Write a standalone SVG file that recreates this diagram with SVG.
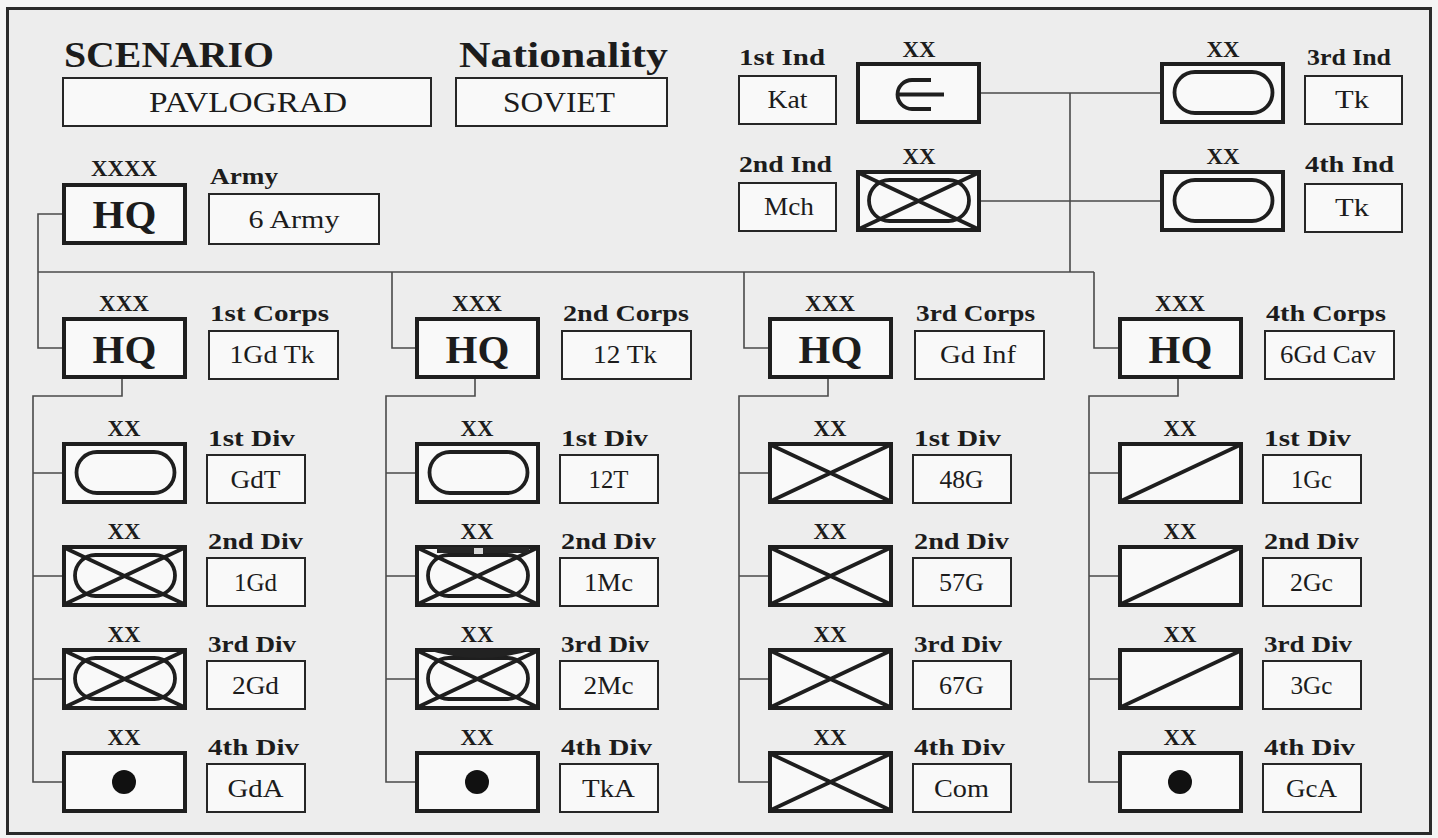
<svg xmlns="http://www.w3.org/2000/svg" xmlns:xlink="http://www.w3.org/1999/xlink" width="1438" height="838" viewBox="0 0 1438 838">
<style>
.t{font-family:"Liberation Serif","Times New Roman",serif;fill:#1c1c1c}
.ttl{font-size:36px;font-weight:bold}
.lbl{font-size:23px;font-weight:bold}
.ech{font-size:24px;font-weight:bold;text-anchor:middle}
.hq{font-size:41px;font-weight:bold;text-anchor:middle}
.nm{font-size:25px;text-anchor:middle}
.big{font-size:30px;text-anchor:middle}
.nbox{fill:#f9f9f9;stroke:#262626;stroke-width:2}
.ubox{fill:#f9f9f9;stroke:#1e1e1e;stroke-width:4}
.sym{fill:none;stroke:#1e1e1e;stroke-width:3.8}
.con{fill:none;stroke:#4a4a4a;stroke-width:1.6}
</style>
<defs>
<g id="box"><rect class="ubox" x="2" y="2" width="121" height="58"/></g>
<g id="tank"><use href="#box"/><rect class="sym" x="14.5" y="10" width="98" height="41" rx="20.5"/></g>
<g id="mech"><use href="#box"/><rect class="sym" x="13" y="10" width="100" height="41" rx="20.5"/><path class="sym" d="M3 3L122 59M3 59L122 3"/></g>
<g id="inf"><use href="#box"/><path class="sym" d="M3 3L122 59M3 59L122 3"/></g>
<g id="cav"><use href="#box"/><path class="sym" d="M3 59L122 3"/></g>
<g id="art"><use href="#box"/><circle cx="62" cy="31" r="12" fill="#111"/></g>
<g id="kav"><use href="#box"/><path class="sym" d="M75 18H56A14.5 14.5 0 0 0 56 47H75M42 32.5H88"/></g>
</defs>
<rect x="0" y="0" width="1438" height="838" fill="#f4f4f4"/>
<rect x="7.5" y="8.5" width="1423" height="825" fill="#ededed" stroke="#2a2a2a" stroke-width="3"/>

<g id="connectors" class="con">
<path d="M62 214H38V348H62"/>
<path d="M38 272H1094"/>
<path d="M392 272V348H415"/>
<path d="M744 272V348H768"/>
<path d="M1094 272V348H1118"/>
<path d="M981 93H1160M981 201H1160M1070 93V272"/>
<path d="M122 379V396H33V782H62M33 473H62M33 576H62M33 679H62"/>
<path d="M475 379V396H386V782H415M386 473H415M386 576H415M386 679H415"/>
<path d="M828 379V396H739V782H768M739 473H768M739 576H768M739 679H768"/>
<path d="M1178 379V396H1089V782H1118M1089 473H1118M1089 576H1118M1089 679H1118"/>
</g>

<g id="scenario">
<text class="t ttl" x="64" y="67" textLength="210" lengthAdjust="spacingAndGlyphs">SCENARIO</text>
<rect class="nbox" x="63" y="78" width="368" height="48"/>
<text class="t big" x="248" y="112" textLength="198" lengthAdjust="spacingAndGlyphs">PAVLOGRAD</text>
</g>
<g id="nationality">
<text class="t ttl" x="459" y="67" font-size="35" textLength="209" lengthAdjust="spacingAndGlyphs">Nationality</text>
<rect class="nbox" x="456" y="78" width="211" height="48"/>
<text class="t big" x="559" y="112" textLength="112" lengthAdjust="spacingAndGlyphs">SOVIET</text>
</g>

<g id="army">
<text class="t ech" x="124" y="176" textLength="66" lengthAdjust="spacingAndGlyphs">XXXX</text>
<use href="#box" x="62" y="183"/>
<text class="t hq" x="124.5" y="228">HQ</text>
<text class="t lbl" x="210" y="184" textLength="68" lengthAdjust="spacingAndGlyphs">Army</text>
<rect class="nbox" x="209" y="194" width="170" height="50"/>
<text class="t nm" x="294" y="228" textLength="91" lengthAdjust="spacingAndGlyphs">6 Army</text>
</g>

<g id="ind1">
<text class="t lbl" x="739" y="65" textLength="86" lengthAdjust="spacingAndGlyphs">1st Ind</text>
<rect class="nbox" x="739" y="76" width="97" height="48"/>
<text class="t nm" x="787.5" y="108" textLength="40" lengthAdjust="spacingAndGlyphs">Kat</text>
<text class="t ech" x="919" y="57" textLength="33" lengthAdjust="spacingAndGlyphs">XX</text>
<use href="#kav" x="856" y="62"/>
</g>
<g id="ind2">
<text class="t lbl" x="739" y="172" textLength="93" lengthAdjust="spacingAndGlyphs">2nd Ind</text>
<rect class="nbox" x="739" y="183" width="97" height="48"/>
<text class="t nm" x="789" y="215" textLength="50" lengthAdjust="spacingAndGlyphs">Mch</text>
<text class="t ech" x="919" y="164" textLength="33" lengthAdjust="spacingAndGlyphs">XX</text>
<use href="#mech" x="856" y="170"/>
</g>
<g id="ind3">
<text class="t ech" x="1223" y="57" textLength="33" lengthAdjust="spacingAndGlyphs">XX</text>
<use href="#tank" x="1160" y="62"/>
<text class="t lbl" x="1307" y="65" textLength="84" lengthAdjust="spacingAndGlyphs">3rd Ind</text>
<rect class="nbox" x="1305" y="76" width="97" height="48"/>
<text class="t nm" x="1352" y="108" textLength="34" lengthAdjust="spacingAndGlyphs">Tk</text>
</g>
<g id="ind4">
<text class="t ech" x="1223" y="164" textLength="33" lengthAdjust="spacingAndGlyphs">XX</text>
<use href="#tank" x="1160" y="170"/>
<text class="t lbl" x="1305" y="172" textLength="89" lengthAdjust="spacingAndGlyphs">4th Ind</text>
<rect class="nbox" x="1305" y="184" width="97" height="48"/>
<text class="t nm" x="1352" y="216" textLength="34" lengthAdjust="spacingAndGlyphs">Tk</text>
</g>

<!-- Corps -->
<g id="corps1">
<text class="t ech" x="124" y="311" textLength="50" lengthAdjust="spacingAndGlyphs">XXX</text>
<use href="#box" x="62" y="317"/>
<text class="t hq" x="124.5" y="363">HQ</text>
<text class="t lbl" x="210" y="321" textLength="119" lengthAdjust="spacingAndGlyphs">1st Corps</text>
<rect class="nbox" x="209" y="331" width="129" height="48"/>
<text class="t nm" x="272" y="363" textLength="85" lengthAdjust="spacingAndGlyphs">1Gd Tk</text>
</g>
<g id="corps2">
<text class="t ech" x="477" y="311" textLength="50" lengthAdjust="spacingAndGlyphs">XXX</text>
<use href="#box" x="415" y="317"/>
<text class="t hq" x="477.5" y="363">HQ</text>
<text class="t lbl" x="563" y="321" textLength="126" lengthAdjust="spacingAndGlyphs">2nd Corps</text>
<rect class="nbox" x="562" y="331" width="129" height="48"/>
<text class="t nm" x="625" y="363" textLength="64" lengthAdjust="spacingAndGlyphs">12 Tk</text>
</g>
<g id="corps3">
<text class="t ech" x="830" y="311" textLength="50" lengthAdjust="spacingAndGlyphs">XXX</text>
<use href="#box" x="768" y="317"/>
<text class="t hq" x="830.5" y="363">HQ</text>
<text class="t lbl" x="916" y="321" textLength="119" lengthAdjust="spacingAndGlyphs">3rd Corps</text>
<rect class="nbox" x="915" y="331" width="129" height="48"/>
<text class="t nm" x="978" y="363" textLength="76" lengthAdjust="spacingAndGlyphs">Gd Inf</text>
</g>
<g id="corps4">
<text class="t ech" x="1180" y="311" textLength="50" lengthAdjust="spacingAndGlyphs">XXX</text>
<use href="#box" x="1118" y="317"/>
<text class="t hq" x="1180.5" y="363">HQ</text>
<text class="t lbl" x="1266" y="321" textLength="120" lengthAdjust="spacingAndGlyphs">4th Corps</text>
<rect class="nbox" x="1265" y="331" width="129" height="48"/>
<text class="t nm" x="1328" y="363" textLength="96" lengthAdjust="spacingAndGlyphs">6Gd Cav</text>
</g>

<!-- Column 1 divisions -->
<g id="c1d1"><text class="t ech" x="124" y="436" textLength="33" lengthAdjust="spacingAndGlyphs">XX</text><use href="#tank" x="62" y="442"/>
<text class="t lbl" x="208" y="446" textLength="87" lengthAdjust="spacingAndGlyphs">1st Div</text>
<rect class="nbox" x="207" y="455" width="98" height="48"/>
<text class="t nm" x="255.5" y="488" textLength="50" lengthAdjust="spacingAndGlyphs">GdT</text></g>
<g id="c1d2"><text class="t ech" x="124" y="539" textLength="33" lengthAdjust="spacingAndGlyphs">XX</text><use href="#mech" x="62" y="545"/>
<text class="t lbl" x="208" y="549" textLength="95" lengthAdjust="spacingAndGlyphs">2nd Div</text>
<rect class="nbox" x="207" y="558" width="98" height="48"/>
<text class="t nm" x="255.5" y="591" textLength="43" lengthAdjust="spacingAndGlyphs">1Gd</text></g>
<g id="c1d3"><text class="t ech" x="124" y="642" textLength="33" lengthAdjust="spacingAndGlyphs">XX</text><use href="#mech" x="62" y="648"/>
<text class="t lbl" x="208" y="652" textLength="88" lengthAdjust="spacingAndGlyphs">3rd Div</text>
<rect class="nbox" x="207" y="661" width="98" height="48"/>
<text class="t nm" x="255.5" y="694" textLength="47" lengthAdjust="spacingAndGlyphs">2Gd</text></g>
<g id="c1d4"><text class="t ech" x="124" y="745" textLength="33" lengthAdjust="spacingAndGlyphs">XX</text><use href="#art" x="62" y="751"/>
<text class="t lbl" x="208" y="755" textLength="91" lengthAdjust="spacingAndGlyphs">4th Div</text>
<rect class="nbox" x="207" y="764" width="98" height="48"/>
<text class="t nm" x="255.5" y="797" textLength="56" lengthAdjust="spacingAndGlyphs">GdA</text></g>

<!-- Column 2 divisions -->
<g id="c2d1"><text class="t ech" x="477" y="436" textLength="33" lengthAdjust="spacingAndGlyphs">XX</text><use href="#tank" x="415" y="442"/>
<text class="t lbl" x="561" y="446" textLength="87" lengthAdjust="spacingAndGlyphs">1st Div</text>
<rect class="nbox" x="560" y="455" width="98" height="48"/>
<text class="t nm" x="608.5" y="488" textLength="40" lengthAdjust="spacingAndGlyphs">12T</text></g>
<g id="c2d2"><text class="t ech" x="477" y="539" textLength="33" lengthAdjust="spacingAndGlyphs">XX</text><use href="#mech" x="415" y="545"/>
<rect x="437" y="547" width="92" height="6" fill="#262626"/><rect x="474" y="548" width="9" height="6" fill="#d8d8d8"/>
<text class="t lbl" x="561" y="549" textLength="95" lengthAdjust="spacingAndGlyphs">2nd Div</text>
<rect class="nbox" x="560" y="558" width="98" height="48"/>
<text class="t nm" x="608.5" y="591" textLength="49" lengthAdjust="spacingAndGlyphs">1Mc</text></g>
<g id="c2d3"><text class="t ech" x="477" y="642" textLength="33" lengthAdjust="spacingAndGlyphs">XX</text><use href="#mech" x="415" y="648"/>
<path d="M424 649L536 649Q480 667 424 649Z" fill="#222"/>
<text class="t lbl" x="561" y="652" textLength="88" lengthAdjust="spacingAndGlyphs">3rd Div</text>
<rect class="nbox" x="560" y="661" width="98" height="48"/>
<text class="t nm" x="608.5" y="694" textLength="50" lengthAdjust="spacingAndGlyphs">2Mc</text></g>
<g id="c2d4"><text class="t ech" x="477" y="745" textLength="33" lengthAdjust="spacingAndGlyphs">XX</text><use href="#art" x="415" y="751"/>
<text class="t lbl" x="561" y="755" textLength="91" lengthAdjust="spacingAndGlyphs">4th Div</text>
<rect class="nbox" x="560" y="764" width="98" height="48"/>
<text class="t nm" x="608.5" y="797" textLength="53" lengthAdjust="spacingAndGlyphs">TkA</text></g>

<!-- Column 3 divisions -->
<g id="c3d1"><text class="t ech" x="830" y="436" textLength="33" lengthAdjust="spacingAndGlyphs">XX</text><use href="#inf" x="768" y="442"/>
<text class="t lbl" x="914" y="446" textLength="87" lengthAdjust="spacingAndGlyphs">1st Div</text>
<rect class="nbox" x="913" y="455" width="98" height="48"/>
<text class="t nm" x="961.5" y="488" textLength="44" lengthAdjust="spacingAndGlyphs">48G</text></g>
<g id="c3d2"><text class="t ech" x="830" y="539" textLength="33" lengthAdjust="spacingAndGlyphs">XX</text><use href="#inf" x="768" y="545"/>
<text class="t lbl" x="914" y="549" textLength="95" lengthAdjust="spacingAndGlyphs">2nd Div</text>
<rect class="nbox" x="913" y="558" width="98" height="48"/>
<text class="t nm" x="961.5" y="591" textLength="45" lengthAdjust="spacingAndGlyphs">57G</text></g>
<g id="c3d3"><text class="t ech" x="830" y="642" textLength="33" lengthAdjust="spacingAndGlyphs">XX</text><use href="#inf" x="768" y="648"/>
<text class="t lbl" x="914" y="652" textLength="88" lengthAdjust="spacingAndGlyphs">3rd Div</text>
<rect class="nbox" x="913" y="661" width="98" height="48"/>
<text class="t nm" x="961.5" y="694" textLength="45" lengthAdjust="spacingAndGlyphs">67G</text></g>
<g id="c3d4"><text class="t ech" x="830" y="745" textLength="33" lengthAdjust="spacingAndGlyphs">XX</text><use href="#inf" x="768" y="751"/>
<text class="t lbl" x="914" y="755" textLength="91" lengthAdjust="spacingAndGlyphs">4th Div</text>
<rect class="nbox" x="913" y="764" width="98" height="48"/>
<text class="t nm" x="961.5" y="797" textLength="55" lengthAdjust="spacingAndGlyphs">Com</text></g>

<!-- Column 4 divisions -->
<g id="c4d1"><text class="t ech" x="1180" y="436" textLength="33" lengthAdjust="spacingAndGlyphs">XX</text><use href="#cav" x="1118" y="442"/>
<text class="t lbl" x="1264" y="446" textLength="87" lengthAdjust="spacingAndGlyphs">1st Div</text>
<rect class="nbox" x="1263" y="455" width="98" height="48"/>
<text class="t nm" x="1311.5" y="488" textLength="41" lengthAdjust="spacingAndGlyphs">1Gc</text></g>
<g id="c4d2"><text class="t ech" x="1180" y="539" textLength="33" lengthAdjust="spacingAndGlyphs">XX</text><use href="#cav" x="1118" y="545"/>
<text class="t lbl" x="1264" y="549" textLength="95" lengthAdjust="spacingAndGlyphs">2nd Div</text>
<rect class="nbox" x="1263" y="558" width="98" height="48"/>
<text class="t nm" x="1311.5" y="591" textLength="43" lengthAdjust="spacingAndGlyphs">2Gc</text></g>
<g id="c4d3"><text class="t ech" x="1180" y="642" textLength="33" lengthAdjust="spacingAndGlyphs">XX</text><use href="#cav" x="1118" y="648"/>
<text class="t lbl" x="1264" y="652" textLength="88" lengthAdjust="spacingAndGlyphs">3rd Div</text>
<rect class="nbox" x="1263" y="661" width="98" height="48"/>
<text class="t nm" x="1311.5" y="694" textLength="42" lengthAdjust="spacingAndGlyphs">3Gc</text></g>
<g id="c4d4"><text class="t ech" x="1180" y="745" textLength="33" lengthAdjust="spacingAndGlyphs">XX</text><use href="#art" x="1118" y="751"/>
<text class="t lbl" x="1264" y="755" textLength="91" lengthAdjust="spacingAndGlyphs">4th Div</text>
<rect class="nbox" x="1263" y="764" width="98" height="48"/>
<text class="t nm" x="1311.5" y="797" textLength="51" lengthAdjust="spacingAndGlyphs">GcA</text></g>
</svg>
